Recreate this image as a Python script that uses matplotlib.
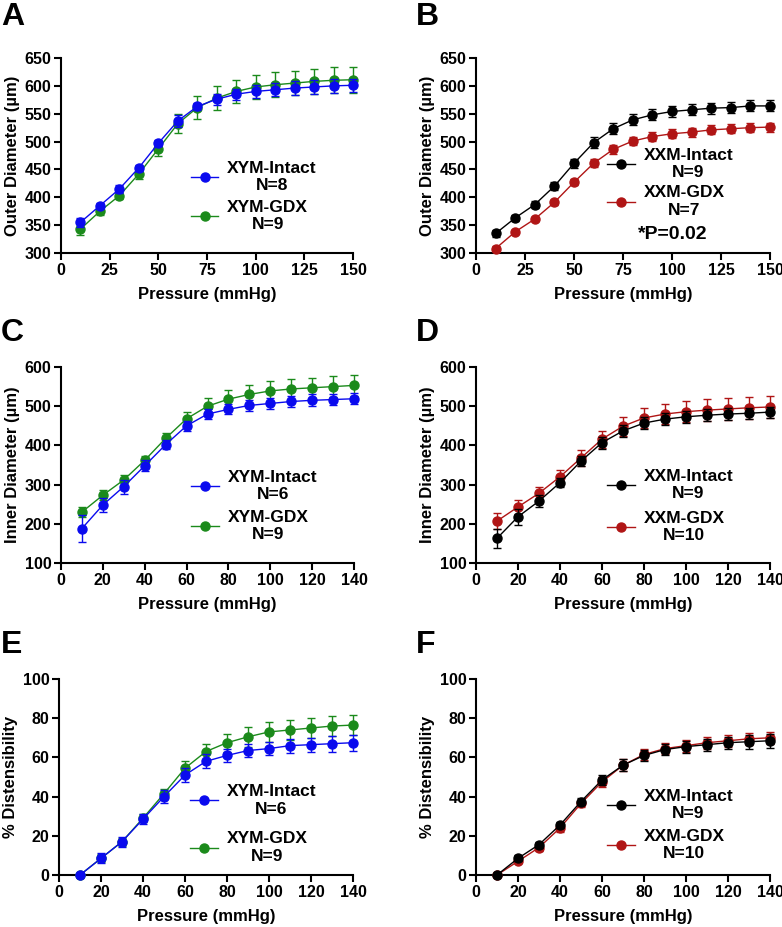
import matplotlib.pyplot as plt
from matplotlib.lines import Line2D

plt.rcParams['font.family'] = ['Liberation Sans', 'DejaVu Sans']
plt.rcParams['font.weight'] = 'bold'

BLUE = '#0a0aee'
GREEN = '#1b8a1b'
RED = '#b01515'
BLACK = '#000000'

# pressures
p150 = list(range(10, 151, 10))
p140 = list(range(10, 141, 10))

# A: outer diameter, XYM
a_intact = [355, 385, 415, 453, 497, 537, 563, 576, 585, 590, 593, 596, 598, 600, 601]
a_intact_err = [8, 5, 7, 5, 5, 10, 7, 10, 10, 12, 12, 12, 12, 12, 12]
a_gdx = [343, 375, 403, 442, 487, 532, 561, 578, 590, 598, 602, 605, 608, 610, 611]
a_gdx_err = [10, 7, 6, 10, 12, 17, 20, 21, 21, 22, 22, 22, 23, 23, 23]

# B: outer diameter, XXM
b_intact = [335, 363, 387, 420, 461, 498, 523, 539, 548, 554, 557, 560, 561, 564, 564]
b_intact_err = [6, 5, 6, 7, 8, 10, 10, 10, 10, 10, 10, 10, 10, 10, 10]
b_gdx = [308, 338, 361, 391, 427, 461, 486, 501, 509, 514, 517, 521, 523, 525, 526]
b_gdx_err = [4, 4, 4, 5, 5, 7, 8, 8, 8, 8, 8, 8, 8, 8, 8]

# C: inner diameter, XYM
c_intact = [188, 248, 295, 348, 402, 450, 480, 492, 502, 507, 512, 515, 517, 519]
c_intact_err = [35, 18, 18, 14, 12, 12, 13, 13, 14, 15, 15, 15, 15, 14]
c_gdx = [230, 273, 312, 362, 418, 468, 500, 518, 530, 539, 544, 547, 550, 553]
c_gdx_err = [13, 12, 12, 12, 14, 18, 22, 24, 25, 26, 26, 26, 27, 27]

# D: inner diameter, XXM
d_intact = [163, 218, 258, 305, 360, 407, 437, 457, 467, 473, 477, 480, 482, 485]
d_intact_err = [25, 20, 15, 12, 12, 15, 15, 15, 15, 15, 16, 15, 14, 14]
d_gdx = [207, 243, 278, 320, 368, 416, 449, 470, 480, 486, 490, 493, 496, 498]
d_gdx_err = [20, 18, 17, 18, 20, 22, 24, 25, 26, 27, 28, 28, 28, 28]

# E: distensibility, XYM
e_intact = [0, 8.5, 17, 28.5, 40, 51, 58, 61, 63.5, 64.5, 66, 66.5, 67, 67.5]
e_intact_err = [0, 2.5, 2.5, 2.5, 3.5, 3.5, 3.5, 3.5, 3.5, 3.5, 3.5, 3.5, 4, 4]
e_gdx = [0, 8.5, 17, 29, 41.5, 54.5, 63, 67.5, 70.5, 73, 74, 75, 76, 76.5]
e_gdx_err = [0, 2, 2, 2, 2.5, 3.5, 4, 4.5, 5, 5, 5, 5, 5, 5]

# F: distensibility, XXM
f_intact = [0, 8.5, 15.5, 25.5, 37.5, 48.5, 56, 61, 64, 65.5, 66.5, 67.5, 68, 68.5]
f_intact_err = [0, 1.5, 1.5, 1.5, 2, 2.5, 3, 3, 3, 3, 3, 3, 3.5, 3.5]
f_gdx = [0, 7, 14, 24, 36.5, 47.5, 56, 61.5, 64.5, 66, 67.5, 68.5, 69.5, 70]
f_gdx_err = [0, 1, 1.5, 2, 2, 2.5, 3, 3, 3, 3, 3, 3, 3, 3]

fig = plt.figure(figsize=(7.82, 9.27), dpi=100)

W, H = 782, 927


def make_axes(left, top, right, bottom):
    return fig.add_axes([left / W, 1 - bottom / H, (right - left) / W, (bottom - top) / H])


def draw_series(ax, x, y, err, color, z):
    ax.errorbar(x, y, yerr=err, color=color, marker='o', markersize=6.5, lw=1.0,
                capsize=3, elinewidth=1.0, capthick=1.0, zorder=z, clip_on=False)


def style(ax, xlim, xticks, ylim, yticks, ylabel):
    ax.set_xlim(*xlim)
    ax.set_ylim(*ylim)
    ax.set_xticks(xticks)
    ax.set_yticks(yticks)
    ax.spines['top'].set_visible(False)
    ax.spines['right'].set_visible(False)
    for s in ('left', 'bottom'):
        ax.spines[s].set_linewidth(1.5)
    ax.tick_params(width=1.5, length=5, labelsize=11.5, pad=2)
    ax.set_xlabel('Pressure (mmHg)', fontsize=12, fontweight='bold', labelpad=7)
    ax.set_ylabel(ylabel, fontsize=12, fontweight='bold', labelpad=3)


def add_legend(ax, entries, anchor, spacing):
    handles = [Line2D([0], [0], color=c, marker='o', markersize=6.5, lw=1.0) for c, _ in entries]
    labels = [lab for _, lab in entries]
    leg = ax.legend(handles, labels, loc='center', bbox_to_anchor=anchor, frameon=False,
                    fontsize=12.5, handlelength=1.6, handletextpad=0.5, labelspacing=spacing)
    for t in leg.get_texts():
        t.set_multialignment('center')
    return leg


def panel_letter(x, y, s):
    fig.text(x / W, 1 - y / H, s, fontsize=23, fontweight='bold', va='top', ha='left')


# A
ax = make_axes(61, 58, 353, 253)
draw_series(ax, p150, a_gdx, a_gdx_err, GREEN, 3)
draw_series(ax, p150, a_intact, a_intact_err, BLUE, 4)
style(ax, (0, 150), range(0, 151, 25), (300, 650), range(300, 651, 50), 'Outer Diameter (µm)')
add_legend(ax, [(BLUE, 'XYM-Intact\nN=8'), (GREEN, 'XYM-GDX\nN=9')], (0.66, 0.29), 0.4)
panel_letter(1, 2, 'A')

# B
ax = make_axes(476, 58, 770, 253)
draw_series(ax, p150, b_intact, b_intact_err, BLACK, 4)
draw_series(ax, p150, b_gdx, b_gdx_err, RED, 3)
style(ax, (0, 150), range(0, 151, 25), (300, 650), range(300, 651, 50), 'Outer Diameter (µm)')
add_legend(ax, [(BLACK, 'XXM-Intact\nN=9'), (RED, 'XXM-GDX\nN=7')], (0.66, 0.36), 0.3)
ax.text(0.67, 0.05, '*P=0.02', transform=ax.transAxes, fontsize=14, fontweight='bold',
        ha='center', va='bottom')
panel_letter(416, 2, 'B')

# C
ax = make_axes(61, 367, 354, 563)
draw_series(ax, p140, c_gdx, c_gdx_err, GREEN, 3)
draw_series(ax, p140, c_intact, c_intact_err, BLUE, 4)
style(ax, (0, 140), range(0, 141, 20), (100, 600), range(100, 601, 100), 'Inner Diameter (µm)')
add_legend(ax, [(BLUE, 'XYM-Intact\nN=6'), (GREEN, 'XYM-GDX\nN=9')], (0.66, 0.29), 0.45)
panel_letter(1, 318, 'C')

# D
ax = make_axes(476, 367, 770, 563)
draw_series(ax, p140, d_intact, d_intact_err, BLACK, 4)
draw_series(ax, p140, d_gdx, d_gdx_err, RED, 3)
style(ax, (0, 140), range(0, 141, 20), (100, 600), range(100, 601, 100), 'Inner Diameter (µm)')
add_legend(ax, [(BLACK, 'XXM-Intact\nN=9'), (RED, 'XXM-GDX\nN=10')], (0.66, 0.29), 0.55)
panel_letter(416, 318, 'D')

# E
ax = make_axes(59, 679, 353, 875)
draw_series(ax, p140, e_gdx, e_gdx_err, GREEN, 3)
draw_series(ax, p140, e_intact, e_intact_err, BLUE, 4)
style(ax, (0, 140), range(0, 141, 20), (0, 100), range(0, 101, 20), '% Distensibility')
add_legend(ax, [(BLUE, 'XYM-Intact\nN=6'), (GREEN, 'XYM-GDX\nN=9')], (0.66, 0.26), 0.85)
panel_letter(1, 630, 'E')

# F
ax = make_axes(476, 679, 770, 875)
draw_series(ax, p140, f_intact, f_intact_err, BLACK, 4)
draw_series(ax, p140, f_gdx, f_gdx_err, RED, 3)
style(ax, (0, 140), range(0, 141, 20), (0, 100), range(0, 101, 20), '% Distensibility')
add_legend(ax, [(BLACK, 'XXM-Intact\nN=9'), (RED, 'XXM-GDX\nN=10')], (0.66, 0.255), 0.45)
panel_letter(416, 630, 'F')

fig.savefig('out.png', dpi=100)
